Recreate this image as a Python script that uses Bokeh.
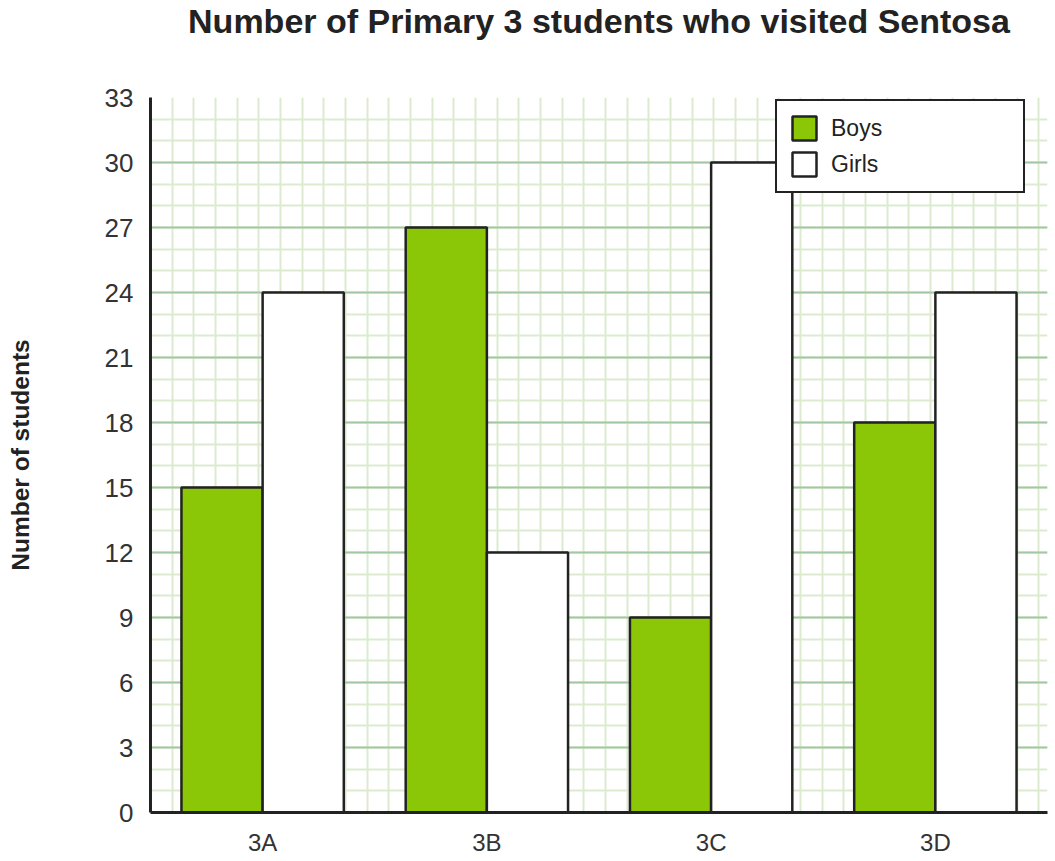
from bokeh.plotting import figure
from bokeh.models import ColumnDataSource, FactorRange, Range1d, FixedTicker, Title
from bokeh.transform import dodge
from bokeh.embed import file_html
from bokeh.resources import INLINE

classes = ["3A", "3B", "3C", "3D"]
boys = [15, 27, 9, 18]
girls = [24, 12, 30, 24]
y_ticks = list(range(0, 34, 3))
y_minor = list(range(0, 34))
title_text = "Number of Primary 3 students who visited Sentosa"

FONT = "Liberation Sans"
DARK = "#222222"
GREEN = "#8bc706"
MAJOR_GRID = "#a3c7a3"
MINOR_GRID = "#dcebd0"

FRAME_W, FRAME_H = 897, 715

source = ColumnDataSource(dict(cls=classes, boys=boys, girls=girls))

p = figure(
    x_range=FactorRange(factors=classes, range_padding=0),
    y_range=Range1d(0, 33),
    frame_width=FRAME_W, frame_height=FRAME_H,
    min_border_left=150, min_border_top=97, min_border_right=5, min_border_bottom=46,
    output_backend="svg", toolbar_location=None,
    title=None,
)
p.outline_line_color = None
p.background_fill_color = "white"

# spacer between frame and title, then the title itself (outermost)
p.add_layout(Title(text=" ", text_font_size="1px", standoff=53), "above")
p.add_layout(Title(text=title_text, text_font=FONT, text_font_size="34px",
                   text_font_style="bold", text_color=DARK, align="center",
                   vertical_align="top", standoff=0), "above")

# square graph-paper grid: vertical lines spaced like one y unit
cell_px = FRAME_H / 33
cell_cat = cell_px / (FRAME_W / len(classes))
p.xgrid.ticker = FixedTicker(ticks=[k * cell_cat for k in range(0, 42)])
p.xgrid.grid_line_color = MINOR_GRID
p.xgrid.grid_line_width = 2

p.ygrid.ticker = FixedTicker(ticks=y_ticks, minor_ticks=y_minor)
p.ygrid.grid_line_color = MAJOR_GRID
p.ygrid.grid_line_width = 2
p.ygrid.minor_grid_line_color = MINOR_GRID
p.ygrid.minor_grid_line_width = 2

# bars
p.vbar(x=dodge("cls", -0.181, range=p.x_range), top="boys", width=0.362,
       source=source, fill_color=GREEN, line_color=DARK, line_width=2.5,
       legend_label="Boys")
p.vbar(x=dodge("cls", 0.181, range=p.x_range), top="girls", width=0.362,
       source=source, fill_color="white", line_color=DARK, line_width=2.5,
       legend_label="Girls")

# axes
for ax in (p.xaxis[0], p.yaxis[0]):
    ax.axis_line_color = DARK
    ax.axis_line_width = 3
    ax.major_tick_line_color = None
    ax.minor_tick_line_color = None
    ax.major_label_text_font = FONT
    ax.major_label_text_color = "#333333"

p.yaxis.ticker = FixedTicker(ticks=y_ticks)
p.yaxis.major_label_text_font_size = "26px"
p.yaxis.major_label_standoff = 11
p.yaxis.axis_label = "Number of students"
p.yaxis.axis_label_text_font = FONT
p.yaxis.axis_label_text_font_size = "24.5px"
p.yaxis.axis_label_text_font_style = "bold"
p.yaxis.axis_label_text_color = DARK
p.yaxis.axis_label_standoff = 68

p.xaxis.major_label_text_font_size = "24px"
p.xaxis.major_label_standoff = 10

# legend
lg = p.legend[0]
lg.location = (625, 619)
lg.glyph_width = 30
lg.glyph_height = 30
lg.padding = 12
lg.spacing = 6
lg.label_standoff = 12
lg.label_width = 180
lg.label_text_font = FONT
lg.label_text_font_size = "23px"
lg.label_text_color = DARK
lg.border_line_color = DARK
lg.border_line_width = 2
lg.border_line_alpha = 1.0
lg.background_fill_color = "white"
lg.background_fill_alpha = 1.0
lg.margin = 0

open("out.html", "w").write(file_html(p, INLINE))
